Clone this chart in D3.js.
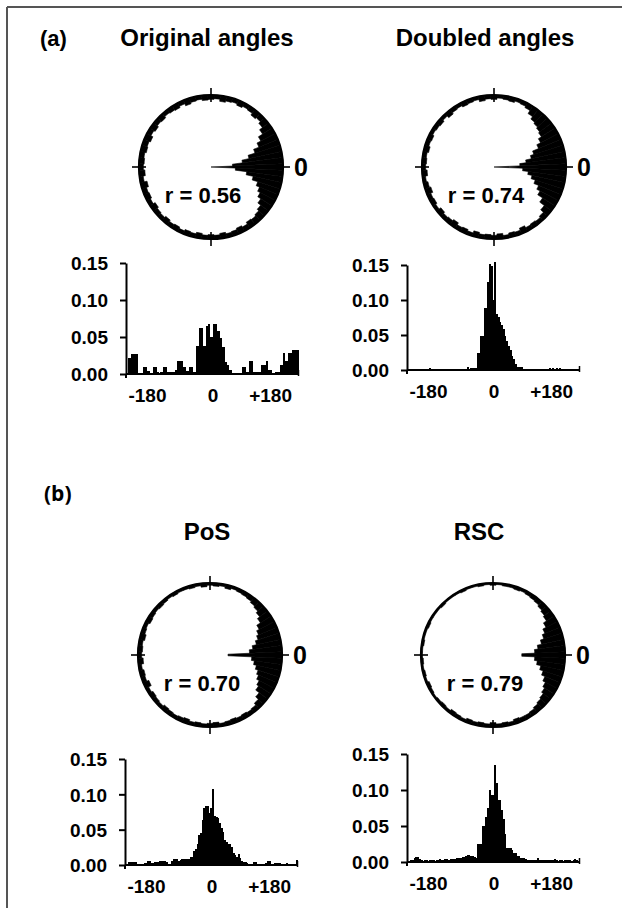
<!DOCTYPE html>
<html><head><meta charset="utf-8">
<script src="https://cdn.jsdelivr.net/npm/d3@7"></script>
<style>
body{margin:0;background:#fff}
svg{display:block}
text{font-family:"Liberation Sans",Arial,sans-serif;font-weight:bold;fill:#000}
</style>
</head><body>
<svg id="chart" width="622" height="908"></svg>
<script>
// ---------- data ----------
const panelTitles = ["Original angles", "Doubled angles", "PoS", "RSC"];
const sectionLabels = ["(a)", "(b)"];
const rLabels = ["r = 0.56", "r = 0.74", "r = 0.70", "r = 0.79"];
const yTickValues = [0, 0.05, 0.10, 0.15];
const xTickValues = [-180, 0, 180];
const xTickLabels = ["-180", "0", "+180"];
const binWidth = 5;
const histBinStarts = d3.range(-250, 250, binWidth);   // 100 bins of 5 degrees
const polarBinCenters = d3.range(-180, 180, 5);        // 72 bins of 5 degrees

const histOriginal = [
 0.022,0.022,0.027,0.027,0.027,0.027,0,0,0,0.01,
 0.01,0.004,0.004,0,0,0.01,0.01,0.003,0,0.003,
 0.003,0.01,0.01,0.003,0.003,0.003,0.003,0.003,0.006,0.018,
 0.018,0.018,0.01,0.01,0.004,0.004,0.01,0.01,0.003,0.003,
 0.038,0.038,0.062,0.062,0.038,0.038,0.065,0.068,0.05,0.05,
 0.068,0.068,0.058,0.058,0.048,0.036,0.036,0.016,0.012,0.005,
 0.005,0,0,0,0,0,0,0.01,0.01,0.003,
 0.003,0.018,0.018,0.003,0.003,0.003,0.003,0.003,0.012,0.012,
 0.012,0.018,0.005,0.005,0,0,0.003,0.003,0.003,0.012,
 0.012,0.028,0.018,0.018,0.028,0.028,0.033,0.033,0.033,0.033];
const histDoubled = [
 0,0,0,0,0,0,0,0,0,0,
 0,0,0.003,0,0,0,0,0,0,0,
 0,0,0,0,0,0,0,0,0,0,
 0,0,0,0,0.004,0,0.003,0.003,0.003,0.003,
 0.024,0.024,0.049,0.049,0.088,0.088,0.126,0.152,0.148,0.1,
 0.154,0.08,0.076,0.068,0.064,0.058,0.048,0.042,0.034,0.028,
 0.02,0.016,0.008,0.005,0.005,0.005,0.005,0,0,0,
 0,0,0,0,0,0,0,0,0,0,
 0,0,0.003,0,0.003,0,0.003,0,0.003,0,
 0,0,0,0,0,0,0,0,0,0];
const histPoS = [
 0.002,0.004,0.004,0.004,0.004,0.004,0.002,0.002,0.002,0.002,
 0.003,0.003,0.006,0.006,0.003,0.003,0.004,0.004,0.004,0.005,
 0.006,0.006,0.006,0.004,0.002,0.002,0.005,0.008,0.008,0.008,
 0.006,0.007,0.009,0.009,0.009,0.008,0.008,0.012,0.012,0.02,
 0.022,0.03,0.043,0.045,0.063,0.08,0.083,0.083,0.073,0.08,
 0.107,0.07,0.068,0.066,0.06,0.052,0.046,0.035,0.033,0.03,
 0.03,0.025,0.017,0.014,0.012,0.015,0.01,0.006,0.004,0.004,
 0.003,0.002,0.002,0.002,0.004,0.004,0.002,0.002,0.002,0.002,
 0.002,0.003,0.005,0.005,0.002,0.002,0.003,0.003,0.003,0.003,
 0.002,0.002,0.002,0.003,0.002,0.002,0.002,0.002,0.002,0.007];
const histRSC = [
 0.002,0.003,0.003,0.006,0.007,0.007,0.004,0.003,0.002,0.003,
 0.003,0.002,0.003,0.003,0.003,0.002,0.003,0.003,0.004,0.003,
 0.003,0.004,0.004,0.003,0.004,0.004,0.004,0.004,0.005,0.005,
 0.006,0.007,0.007,0.008,0.01,0.01,0.009,0.008,0.007,0.006,
 0.025,0.025,0.025,0.05,0.05,0.062,0.075,0.1,0.093,0.093,
 0.135,0.11,0.086,0.086,0.072,0.06,0.039,0.02,0.019,0.019,
 0.016,0.013,0.012,0.009,0.008,0.006,0.006,0.005,0.004,0.003,
 0.003,0.003,0.003,0.003,0.003,0.005,0.003,0.003,0.003,0.003,
 0.003,0.003,0.003,0.003,0.003,0.004,0.003,0.002,0.003,0.003,
 0.002,0.003,0.003,0.003,0.003,0.002,0.003,0.004,0.003,0.002];

// polar: inward spike depth (fraction of radius) per 5-degree bin, -180..175 (ccw from 0)
const polarOriginal = [
 0.06,0.08,0.05,0.09,0.06,0.07,0.05,0.08,0.06,0.05,
 0.07,0.05,0.06,0.04,0.06,0.05,0.07,0.05,0.06,0.05,
 0.07,0.05,0.06,0.08,0.06,0.09,0.08,0.1,0.13,0.18,
 0.23,0.27,0.32,0.4,0.5,0.66,1.0,0.7,0.56,0.46,
 0.36,0.28,0.22,0.15,0.1,0.07,0.09,0.06,0.05,0.07,
 0.05,0.06,0.08,0.05,0.06,0.07,0.05,0.06,0.08,0.05,
 0.07,0.06,0.05,0.07,0.06,0.08,0.06,0.09,0.07,0.08,
 0.06,0.07];
const polarDoubled = [
 0.05,0.07,0.04,0.06,0.08,0.05,0.06,0.04,0.07,0.05,
 0.06,0.08,0.05,0.06,0.04,0.07,0.05,0.06,0.05,0.07,
 0.04,0.06,0.05,0.08,0.05,0.06,0.05,0.07,0.12,0.2,
 0.28,0.33,0.4,0.46,0.52,0.6,1.0,0.64,0.55,0.47,
 0.42,0.33,0.27,0.22,0.2,0.18,0.16,0.12,0.07,0.05,
 0.04,0.06,0.05,0.04,0.06,0.05,0.07,0.04,0.05,0.06,
 0.04,0.05,0.07,0.04,0.06,0.05,0.04,0.06,0.05,0.07,
 0.05,0.06];
const polarPoS = [
 0.05,0.07,0.04,0.06,0.05,0.08,0.04,0.06,0.05,0.04,
 0.06,0.05,0.04,0.05,0.06,0.04,0.05,0.04,0.05,0.06,
 0.04,0.05,0.06,0.05,0.06,0.05,0.06,0.09,0.14,0.2,
 0.23,0.27,0.3,0.34,0.38,0.42,0.75,0.45,0.4,0.34,
 0.3,0.27,0.23,0.17,0.13,0.1,0.08,0.06,0.05,0.04,
 0.03,0.05,0.03,0.04,0.03,0.05,0.03,0.04,0.03,0.03,
 0.04,0.03,0.04,0.05,0.04,0.05,0.06,0.04,0.05,0.07,
 0.05,0.06];
const polarRSC = [
 0.02,0.03,0.02,0.03,0.02,0.04,0.03,0.02,0.03,0.04,
 0.03,0.05,0.04,0.03,0.05,0.04,0.05,0.04,0.06,0.04,
 0.05,0.04,0.06,0.05,0.05,0.06,0.08,0.1,0.12,0.15,
 0.18,0.22,0.27,0.32,0.38,0.42,0.6,0.42,0.37,0.31,
 0.26,0.22,0.17,0.12,0.1,0.08,0.06,0.05,0.04,0.03,
 0.04,0.03,0.03,0.02,0.03,0.02,0.03,0.02,0.02,0.03,
 0.02,0.02,0.02,0.03,0.02,0.02,0.02,0.03,0.02,0.02,
 0.03,0.02];

// ---------- layout ----------
const layout = [
 {cx:211, cy:167, tx:207, ty:46,  hz:213, hy0:374, hy1:263},
 {cx:494, cy:167, tx:485, ty:46,  hz:494, hy0:370, hy1:265},
 {cx:210, cy:655, tx:207, ty:540, hz:212, hy0:865, hy1:759},
 {cx:493, cy:655, tx:479, ty:540, hz:494, hy0:862, hy1:754}
];
const polars = [polarOriginal, polarDoubled, polarPoS, polarRSC];
const hists = [histOriginal, histDoubled, histPoS, histRSC];
const R = 72;
const halfSpan = 85.5;

const svg = d3.select("#chart");

// frame
svg.append("line").attr("x1",7).attr("y1",7).attr("x2",622).attr("y2",7)
  .attr("stroke","#555").attr("stroke-width",2);
svg.append("line").attr("x1",7).attr("y1",7).attr("x2",7).attr("y2",908)
  .attr("stroke","#555").attr("stroke-width",2);

// section labels
svg.append("text").attr("x",40).attr("y",46).attr("font-size",22).text(sectionLabels[0]);
svg.append("text").attr("x",44).attr("y",501).style("font-family","'Open Sans',sans-serif")
  .attr("font-size",21).text(sectionLabels[1]);

const angle = d3.scaleLinear().domain([0, 360]).range([Math.PI/2, Math.PI/2 - 2*Math.PI]);

layout.forEach((L, i) => {
  const g = svg.append("g");
  // title
  g.append("text").attr("x",L.tx).attr("y",L.ty).attr("text-anchor","middle")
    .attr("font-size",24).text(panelTitles[i]);

  // polar
  const pg = g.append("g").attr("transform",`translate(${L.cx},${L.cy})`);
  const arc = d3.arc()
    .innerRadius(d => R * (1 - d.v))
    .outerRadius(R)
    .startAngle(d => angle(d.a - 2.5))
    .endAngle(d => angle(d.a + 2.5));
  pg.selectAll("path.sp").data(polars[i].map((v, k) => ({a: polarBinCenters[k], v})))
    .join("path").attr("class","sp").attr("d", arc)
    .attr("fill","#000").attr("stroke","#000").attr("stroke-width",0.6).attr("stroke-linejoin","round");
  pg.append("circle").attr("r",R).attr("fill","none").attr("stroke","#000").attr("stroke-width",2.2);
  // cross ticks
  [[0,-1],[0,1],[-1,0],[1,0]].forEach(([dx,dy]) => {
    pg.append("line").attr("x1",dx*(R-7)).attr("y1",dy*(R-7)).attr("x2",dx*(R+7)).attr("y2",dy*(R+7))
      .attr("stroke","#000").attr("stroke-width",1.6);
  });
  pg.append("text").attr("x",R+11).attr("y",9).attr("font-size",25).text("0");
  pg.append("text").attr("x",-8).attr("y",36).attr("text-anchor","middle").attr("font-size",22).text(rLabels[i]);

  // histogram
  const x = d3.scaleLinear().domain([-250, 250]).range([L.hz - halfSpan, L.hz + halfSpan]);
  const y = d3.scaleLinear().domain([0, 0.15]).range([L.hy0, L.hy1]);
  const hg = g.append("g");
  hg.selectAll("rect").data(hists[i].map((v, k) => ({b: histBinStarts[k], v})).filter(d => d.v > 0))
    .join("rect")
    .attr("x", d => x(d.b))
    .attr("width", d => x(d.b + binWidth) - x(d.b) + 0.4)
    .attr("y", d => y(d.v))
    .attr("height", d => L.hy0 - y(d.v))
    .attr("fill","#000")
    .attr("shape-rendering","crispEdges");

  const axX = x(-250) - 1.5;
  const yAxis = d3.axisLeft(y).tickValues(yTickValues).tickFormat(d3.format(".2f"))
    .tickSize(6).tickSizeOuter(0).tickPadding(12);
  const ya = hg.append("g").attr("transform",`translate(${axX},0)`).call(yAxis);
  ya.select(".domain").attr("stroke","#000").attr("stroke-width",2);
  ya.selectAll(".tick line").attr("stroke","#000").attr("stroke-width",2);
  ya.selectAll(".tick text").attr("font-size",19).attr("font-family",null).attr("fill","#000").attr("dy","0.36em");
  hg.append("line").attr("x1",axX).attr("x2",axX).attr("y1",L.hy0).attr("y2",L.hy0+4)
    .attr("stroke","#000").attr("stroke-width",2);

  // x axis baseline
  hg.append("line").attr("x1",axX).attr("x2",x(250)).attr("y1",L.hy0).attr("y2",L.hy0)
    .attr("stroke","#000").attr("stroke-width",2);
  hg.append("line").attr("x1",x(250)).attr("x2",x(250)).attr("y1",L.hy0-4).attr("y2",L.hy0+2)
    .attr("stroke","#000").attr("stroke-width",1.5);
  hg.selectAll("text.xl").data(xTickValues).join("text").attr("class","xl")
    .attr("x", (d, k) => x(d) + (k === 1 ? 0 : -4))
    .attr("y", L.hy0 + 28)
    .attr("text-anchor","middle").attr("font-size",19)
    .text((d, k) => xTickLabels[k]);
});
</script>
</body></html>
